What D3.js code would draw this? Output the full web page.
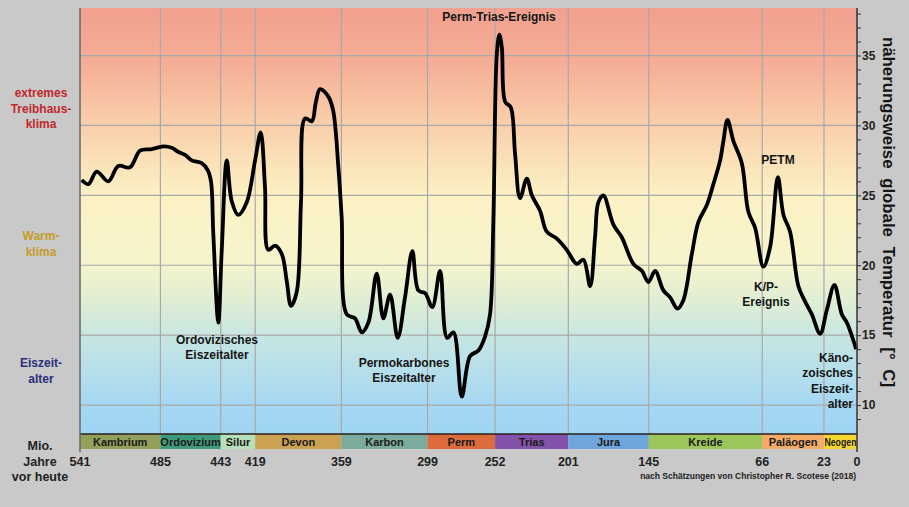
<!DOCTYPE html>
<html lang="de">
<head>
<meta charset="UTF-8">
<title>Globale Temperatur im Phanerozoikum</title>
<script src="https://d3js.org/d3.v7.min.js"></script>
<style>
    body { margin: 0; background: #c9c9c9; font-family: "Liberation Sans", Arial, sans-serif; }
    svg { display: block; }
    text { font-weight: bold; }
</style>
</head>
<body>
<svg width="909" height="507"></svg>
<script>
const ages = [539.8, 535.2, 529.4, 521.3, 514.3, 506.2, 499.2, 491.1, 483, 477.1, 472.5, 467.9, 463.2, 456.3, 452.1, 449.8,
    448.2, 444.7, 442.3, 438.8, 435.4, 430.8, 424.9, 419.1, 415.2, 412.2, 409.9, 405.2, 400.5, 397.1, 394.1, 390.1,
    387.1, 384.3, 379.6, 376.9, 373.9, 368.3, 364.8, 361.1, 358.8, 355.3, 349.5, 344.8, 340.2, 334.4, 329.8, 325.1,
    319.8, 314.7, 309.6, 305.4, 300.7, 295.7, 290.3, 285.4, 281, 275.2, 269.4, 263.6, 259, 255.5, 253.2, 250.8,
    249, 247.3, 245, 241.1, 238.1, 234.6, 229.9, 226.4, 220.7, 216, 209, 202.1, 195.1, 190.5, 185.8, 182.4,
    180.1, 176.6, 169.6, 163.8, 155.7, 149.8, 145.2, 140.6, 134.8, 130.1, 125, 120.9, 115, 110.4, 104.6, 100,
    95.3, 93, 90.2, 86.1, 80.2, 75.6, 71, 65.2, 60.5, 55.1, 51.2, 46.6, 40.8, 36.1, 31.5, 25.7,
    21, 15.7, 10.6, 7.1, 0.6];
const temps = [26.1, 25.8, 26.7, 26.0, 27.1, 27.0, 28.2, 28.3, 28.5, 28.4, 28.1, 27.9, 27.5, 27.3, 26.8, 26.0,
    22.3, 15.9, 21.1, 27.5, 24.6, 23.6, 24.5, 27.5, 29.5, 25.6, 21.1, 21.4, 20.8, 18.9, 17.1, 18.1,
    24.6, 30.5, 30.3, 31.6, 32.6, 32.1, 31.1, 27.0, 23.4, 16.5, 16.2, 15.2, 15.9, 19.4, 16.2, 17.9,
    14.8, 17.7, 21.0, 18.2, 18.0, 17.0, 19.6, 14.8, 15.2, 10.6, 13.5, 13.9, 14.9, 16.5, 23.2, 35.1,
    36.5, 35.6, 31.7, 31.3, 28.0, 24.8, 26.2, 25.0, 23.9, 22.4, 21.9, 21.1, 20.1, 20.4, 18.5, 22.0,
    24.5, 25.0, 22.9, 22.0, 20.1, 19.6, 18.8, 19.6, 18.2, 17.7, 16.9, 17.5, 20.8, 23.1, 24.3, 25.8,
    27.5, 28.9, 30.4, 28.9, 27.3, 23.8, 22.7, 19.9, 21.3, 26.3, 23.6, 22.4, 18.5, 17.4, 16.5, 15.1,
    16.8, 18.6, 16.5, 15.9, 14.0];

const periodNames = ["Kambrium", "Ordovizium", "Silur", "Devon", "Karbon", "Perm", "Trias", "Jura", "Kreide", "Paläogen", "Neogen"];
const periodStart = [541, 485, 443, 419, 359, 299, 252, 201, 145, 66, 23];
const periodEnd = [485, 443, 419, 359, 299, 252, 201, 145, 66, 23, 0];
const periodColors = ["#959f5c", "#3e9a78", "#b6dfba", "#cba153", "#7bab9c", "#dd6b3b", "#8452aa", "#6ea6db", "#9cc65b", "#f4ab6a", "#f6d730"];

const ageTicks = [541, 485, 443, 419, 359, 299, 252, 201, 145, 66, 23, 0];
const tempTicks = [10, 15, 20, 25, 30, 35];

const svg = d3.select("svg");
const x = d3.scaleLinear().domain([541, 0]).range([80, 857]);
const y = d3.scaleLinear().domain([8, 38.4]).range([433, 8]);

// Hintergrundverlauf
const grad = svg.append("defs").append("linearGradient")
    .attr("id", "bg").attr("x1", 0).attr("y1", 0).attr("x2", 0).attr("y2", 1);
[[0, "#f2a08f"], [0.13, "#f5ae96"], [0.28, "#f9d0ac"], [0.44, "#fcf1c4"], [0.6, "#f6f4cc"],
 [0.69, "#dfeed4"], [0.78, "#c5e5e3"], [0.93, "#a6d8f2"], [1, "#9fd4f3"]]
    .forEach(s => grad.append("stop").attr("offset", s[0]).attr("stop-color", s[1]));

svg.append("rect")
    .attr("x", x(541)).attr("y", y(38.4))
    .attr("width", x(0) - x(541)).attr("height", y(8) - y(38.4))
    .attr("fill", "url(#bg)");

// Gitterlinien
svg.append("g").selectAll("line").data(tempTicks).join("line")
    .attr("x1", x(541)).attr("x2", x(0))
    .attr("y1", d => y(d)).attr("y2", d => y(d))
    .attr("stroke", "#a9a9a9").attr("stroke-width", 1.2);
svg.append("g").selectAll("line").data(ageTicks.slice(1, -1)).join("line")
    .attr("x1", d => x(d)).attr("x2", d => x(d))
    .attr("y1", y(38.4)).attr("y2", y(8))
    .attr("stroke", "#a9a9a9").attr("stroke-width", 1.2);

// Temperaturkurve
const line = d3.line()
    .x((d, i) => x(ages[i]))
    .y(d => y(d))
    .curve(d3.curveCatmullRom.alpha(0.5));
svg.append("path")
    .datum(temps)
    .attr("d", line)
    .attr("fill", "none")
    .attr("stroke", "#000")
    .attr("stroke-width", 3.8)
    .attr("stroke-linejoin", "round");

// Perioden-Leiste
const barTop = 434, barH = 15;
const bars = svg.append("g");
bars.selectAll("rect").data(periodNames).join("rect")
    .attr("x", (d, i) => x(periodStart[i]))
    .attr("y", barTop)
    .attr("width", (d, i) => x(periodEnd[i]) - x(periodStart[i]))
    .attr("height", barH)
    .attr("fill", (d, i) => periodColors[i]);
bars.selectAll("text").data(periodNames).join("text")
    .attr("x", (d, i) => (x(periodStart[i]) + x(periodEnd[i])) / 2)
    .attr("y", barTop + 11.5)
    .attr("text-anchor", "middle")
    .attr("font-size", 11)
    .attr("fill", "#1a1a1a")
    .text(d => d)
    .each(function (d, i) {
        if (d === "Neogen") {
            d3.select(this).attr("textLength", x(periodEnd[i]) - x(periodStart[i]) - 1)
                .attr("lengthAdjust", "spacingAndGlyphs");
        }
    });
svg.append("line")
    .attr("x1", x(541)).attr("x2", x(0)).attr("y1", barTop).attr("y2", barTop)
    .attr("stroke", "#222").attr("stroke-width", 1.5);

// Achsenlinien
svg.append("line").attr("x1", x(541)).attr("x2", x(541)).attr("y1", 8).attr("y2", 452)
    .attr("stroke", "#666").attr("stroke-width", 1.5);

const yAxis = svg.append("g")
    .attr("transform", `translate(${x(0)},0)`)
    .call(d3.axisRight(y).tickValues(d3.range(9, 39)).tickSize(4).tickFormat(d => tempTicks.includes(d) ? d : ""));
yAxis.select(".domain").remove();
yAxis.selectAll(".tick line").attr("stroke", "#333");
yAxis.selectAll("text").attr("font-size", 12).attr("fill", "#222").attr("font-family", "Liberation Sans, Arial, sans-serif")
    .attr("x", 5).attr("font-weight", "bold");
svg.append("line").attr("x1", x(0)).attr("x2", x(0)).attr("y1", 8).attr("y2", 452)
    .attr("stroke", "#333").attr("stroke-width", 1.5);

// Altersbeschriftung
svg.append("g").selectAll("text").data(ageTicks).join("text")
    .attr("x", d => x(d))
    .attr("y", 466)
    .attr("text-anchor", "middle")
    .attr("font-size", 12.5)
    .attr("fill", "#222")
    .text(d => d);

svg.append("g").selectAll("text").data(["Mio.", "Jahre", "vor heute"]).join("text")
    .attr("x", 40).attr("y", (d, i) => 450 + i * 15.5)
    .attr("text-anchor", "middle").attr("font-size", 12.5).attr("fill", "#222")
    .text(d => d);

// Klimazonen links
const zones = [
    { lines: ["extremes", "Treibhaus-", "klima"], y0: 97, color: "#c1272d" },
    { lines: ["Warm-", "klima"], y0: 240, color: "#c49d27" },
    { lines: ["Eiszeit-", "alter"], y0: 367, color: "#2b2f7c" }
];
zones.forEach(z => {
    svg.append("g").selectAll("text").data(z.lines).join("text")
        .attr("x", 41).attr("y", (d, i) => z.y0 + i * 15.5)
        .attr("text-anchor", "middle").attr("font-size", 12).attr("fill", z.color)
        .text(d => d);
});

// Ereignisse
const notes = [
    { lines: ["Perm-Trias-Ereignis"], x: 499, y0: 21, anchor: "middle" },
    { lines: ["Ordovizisches", "Eiszeitalter"], x: 217, y0: 344, anchor: "middle" },
    { lines: ["Permokarbones", "Eiszeitalter"], x: 404, y0: 367, anchor: "middle" },
    { lines: ["PETM"], x: 778, y0: 164, anchor: "middle" },
    { lines: ["K/P-", "Ereignis"], x: 766, y0: 291, anchor: "middle" },
    { lines: ["Käno-", "zoisches", "Eiszeit-", "alter"], x: 853, y0: 362, anchor: "end" }
];
notes.forEach(n => {
    svg.append("g").selectAll("text").data(n.lines).join("text")
        .attr("x", n.x).attr("y", (d, i) => n.y0 + i * 15.3)
        .attr("text-anchor", n.anchor).attr("font-size", 12).attr("fill", "#151515")
        .text(d => d);
});

// Achsentitel rechts
svg.append("text")
    .attr("transform", `translate(883,212) rotate(90)`)
    .attr("text-anchor", "middle")
    .attr("font-size", 16.8)
    .attr("fill", "#151515")
    .attr("word-spacing", 5)
    .text("näherungsweise globale Temperatur [° C]");

svg.append("text")
    .attr("x", 856).attr("y", 479)
    .attr("text-anchor", "end")
    .attr("font-size", 8.5)
    .attr("fill", "#222")
    .text("nach Schätzungen von Christopher R. Scotese (2018)");
</script>
</body>
</html>
